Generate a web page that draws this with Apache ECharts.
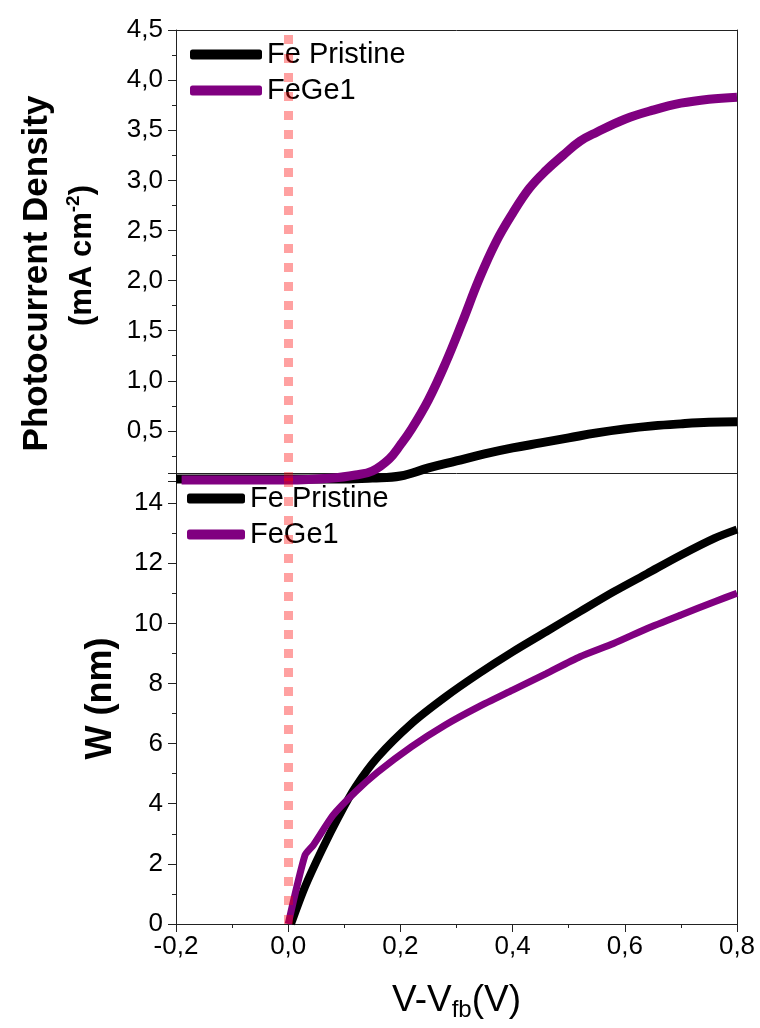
<!DOCTYPE html>
<html lang="en">
<head>
    <meta charset="UTF-8">
    <title>Photocurrent / W</title>
    <script src="https://cdn.jsdelivr.net/npm/echarts@6/dist/echarts.min.js"></script>
    <style>
        body { margin: 0; background: #fff; }
    </style>
</head>
<body>
<div id="main" style="width: 760px; height: 1028px;"></div>
<script type="text/javascript">
    // photocurrent (top panel)
    var jPristineV = [-0.2, 0.0, 0.1, 0.15, 0.2, 0.25, 0.3, 0.35, 0.4, 0.45, 0.5, 0.55, 0.6, 0.65, 0.7, 0.75, 0.8];
    var jPristine  = [0.02, 0.02, 0.02, 0.03, 0.05, 0.13, 0.20, 0.27, 0.33, 0.38, 0.43, 0.48, 0.52, 0.55, 0.57, 0.585, 0.59];
    var jFeGeV = [-0.19, 0.0, 0.08, 0.12, 0.15, 0.18, 0.2, 0.22, 0.25, 0.28, 0.31, 0.34, 0.37, 0.4, 0.43, 0.46, 0.49, 0.52, 0.55, 0.6, 0.65, 0.7, 0.75, 0.8];
    var jFeGe  = [0.01, 0.01, 0.03, 0.06, 0.10, 0.22, 0.36, 0.52, 0.81, 1.17, 1.58, 2.01, 2.38, 2.67, 2.92, 3.10, 3.25, 3.39, 3.48, 3.61, 3.70, 3.77, 3.81, 3.83];

    // depletion width (bottom panel)
    var wPristineV = [0.005, 0.03, 0.06, 0.09, 0.12, 0.16, 0.22, 0.28, 0.34, 0.40, 0.46, 0.52, 0.58, 0.64, 0.70, 0.76, 0.80];
    var wPristine  = [0, 1.24, 2.46, 3.57, 4.56, 5.56, 6.67, 7.55, 8.33, 9.05, 9.72, 10.39, 11.05, 11.66, 12.27, 12.83, 13.12];
    var wFeGeV = [0.0, 0.03, 0.045, 0.08, 0.12, 0.16, 0.22, 0.28, 0.34, 0.40, 0.46, 0.52, 0.58, 0.64, 0.70, 0.76, 0.80];
    var wFeGe  = [0, 2.29, 2.63, 3.62, 4.40, 5.06, 5.90, 6.62, 7.23, 7.78, 8.33, 8.89, 9.33, 9.83, 10.28, 10.72, 11.0];

    var vfbLine = 0;
    var names = ['Fe Pristine', 'FeGe1'];
    var colors = ['#000000', '#800080'];

    function pairs(xs, ys) {
        return xs.map(function (x, i) { return [x, ys[i]]; });
    }
    function comma(v, digits) {
        return v.toFixed(digits).replace('.', ',');
    }

    var FONT = 'Liberation Sans, Arial, sans-serif';
    var axisColor = '#222';

    var plainLine = {
        axisLine: { show: true, onZero: false, lineStyle: { color: axisColor, width: 1 } },
        axisTick: { show: false },
        axisLabel: { show: false },
        splitLine: { show: false }
    };

    var dashed = {
        silent: true,
        symbol: 'none',
        label: { show: false },
        lineStyle: { color: 'rgba(255,0,0,0.37)', width: 9, type: [9, 10] },
        data: [{ xAxis: vfbLine }]
    };

    var chart = echarts.init(document.getElementById('main'));
    chart.setOption({
        animation: false,
        backgroundColor: '#fff',
        grid: [
            { left: 176, right: 23, top: 30, height: 451 },
            { left: 176, right: 23, top: 473, height: 451 }
        ],
        legend: [
            {
                left: 185, top: 35, orient: 'vertical', itemGap: 7,
                itemWidth: 72, itemHeight: 10, icon: 'roundRect', selectedMode: false,
                textStyle: { fontFamily: FONT, fontSize: 29, color: '#000' },
                data: names
            },
            {
                left: 182, top: 479, orient: 'vertical', itemGap: 7,
                itemWidth: 58, itemHeight: 10, icon: 'roundRect', selectedMode: false,
                textStyle: { fontFamily: FONT, fontSize: 29, color: '#000' },
                data: names
            }
        ],
        xAxis: [
            Object.assign({ gridIndex: 0, type: 'value', position: 'top', min: -0.2, max: 0.8, interval: 0.2 }, plainLine),
            {
                gridIndex: 1, type: 'value', position: 'bottom', min: -0.2, max: 0.8, interval: 0.2,
                name: '{a|V-V}{s|fb}{a|(V)}', nameLocation: 'middle', nameGap: 56,
                nameTextStyle: {
                    rich: {
                        a: { fontFamily: FONT, fontSize: 37, color: '#000' },
                        s: { fontFamily: FONT, fontSize: 24, color: '#000', padding: [18, 0, 0, 0] }
                    }
                },
                axisLine: { show: true, onZero: false, lineStyle: { color: axisColor, width: 1 } },
                axisTick: { show: true, inside: false, length: 8, lineStyle: { color: axisColor } },
                minorTick: { show: true, splitNumber: 2, length: 4, lineStyle: { color: axisColor } },
                axisLabel: {
                    margin: 10, fontFamily: FONT, fontSize: 26, color: '#000',
                    formatter: function (v) { return comma(v, 1); }
                },
                splitLine: { show: false }
            },
            Object.assign({ gridIndex: 1, type: 'value', position: 'top', min: -0.2, max: 0.8, interval: 0.2 }, plainLine)
        ],
        yAxis: [
            {
                gridIndex: 0, type: 'value', position: 'left', min: 0, max: 4.5, interval: 0.5,
                name: '{t|Photocurrent Density}\n{u|(mA cm}{p|-2}{u|)}',
                nameLocation: 'middle', nameGap: 74, nameRotate: 90,
                nameTextStyle: {
                    align: 'center',
                    rich: {
                        t: { fontFamily: FONT, fontSize: 35, fontWeight: 'bold', color: '#000', lineHeight: 50, padding: [0, 36, 0, 0] },
                        u: { fontFamily: FONT, fontSize: 31, fontWeight: 'bold', color: '#000', lineHeight: 40 },
                        p: { fontFamily: FONT, fontSize: 19, fontWeight: 'bold', color: '#000', padding: [0, 0, 16, 0] }
                    }
                },
                axisLine: { show: true, onZero: false, lineStyle: { color: axisColor, width: 1 } },
                axisTick: { show: true, inside: false, length: 8, lineStyle: { color: axisColor } },
                minorTick: { show: true, splitNumber: 2, length: 4, lineStyle: { color: axisColor } },
                axisLabel: {
                    margin: 13, fontFamily: FONT, fontSize: 26, color: '#000',
                    formatter: function (v) { return v === 0 ? '' : comma(v, 1); }
                },
                splitLine: { show: false }
            },
            Object.assign({ gridIndex: 0, type: 'value', position: 'right', min: 0, max: 4.5 }, plainLine),
            {
                gridIndex: 1, type: 'value', position: 'left', min: 0, max: 15, interval: 2,
                name: 'W (nm)', nameLocation: 'middle', nameGap: 57, nameRotate: 90,
                nameTextStyle: { fontFamily: FONT, fontSize: 36, fontWeight: 'bold', color: '#000' },
                axisLine: { show: true, onZero: false, lineStyle: { color: axisColor, width: 1 } },
                axisTick: { show: true, inside: false, length: 8, lineStyle: { color: axisColor } },
                minorTick: { show: true, splitNumber: 2, length: 4, lineStyle: { color: axisColor } },
                axisLabel: {
                    margin: 13, fontFamily: FONT, fontSize: 26, color: '#000',
                    formatter: function (v) { return v > 14 ? '' : String(v); }
                },
                splitLine: { show: false }
            },
            Object.assign({ gridIndex: 1, type: 'value', position: 'right', min: 0, max: 15 }, plainLine)
        ],
        series: [
            {
                name: names[0], type: 'line', xAxisIndex: 0, yAxisIndex: 0,
                data: pairs(jPristineV, jPristine), showSymbol: false, smooth: 0.4,
                clip: false, lineStyle: { color: colors[0], width: 9 }, itemStyle: { color: colors[0] }
            },
            {
                name: names[1], type: 'line', xAxisIndex: 0, yAxisIndex: 0,
                data: pairs(jFeGeV, jFeGe), showSymbol: false, smooth: 0.4,
                clip: false, lineStyle: { color: colors[1], width: 9 }, itemStyle: { color: colors[1] },
                markLine: dashed
            },
            {
                name: names[0], type: 'line', xAxisIndex: 1, yAxisIndex: 2,
                data: pairs(wPristineV, wPristine), showSymbol: false, smooth: 0.3,
                lineStyle: { color: colors[0], width: 8 }, itemStyle: { color: colors[0] }
            },
            {
                name: names[1], type: 'line', xAxisIndex: 1, yAxisIndex: 2,
                data: pairs(wFeGeV, wFeGe), showSymbol: false, smooth: 0.2,
                lineStyle: { color: colors[1], width: 7 }, itemStyle: { color: colors[1] },
                markLine: dashed
            }
        ]
    });
</script>
</body>
</html>
